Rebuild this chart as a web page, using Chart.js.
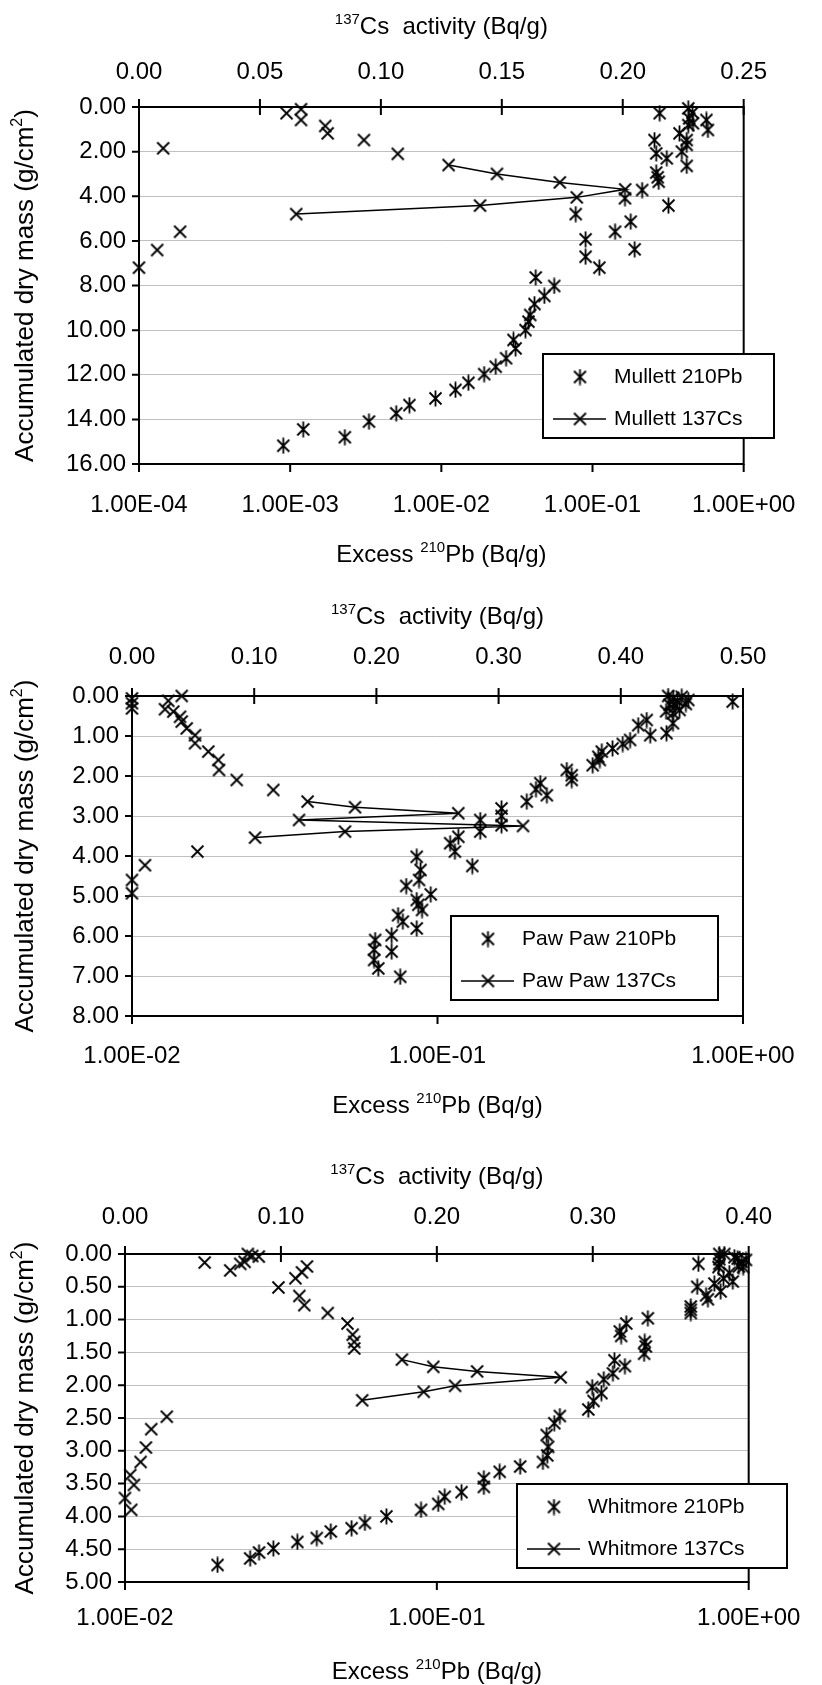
<!DOCTYPE html>
<html><head><meta charset="utf-8">
<script src="https://cdn.jsdelivr.net/npm/chart.js@4/dist/chart.umd.min.js"></script>
<style>
html,body{margin:0;padding:0;background:#fff;}
body{width:822px;height:1685px;position:relative;overflow:hidden;}
canvas{position:absolute;left:0;display:block;}
</style></head><body>
<canvas id="c1" width="822" height="580" style="top:0px"></canvas>
<canvas id="c2" width="822" height="540" style="top:580px"></canvas>
<canvas id="c3" width="822" height="565" style="top:1120px"></canvas>
<script>
// ---------------- DATA ----------------
// pairs are [activity (Bq/g), accumulated dry mass (g/cm2)]
const mullettPb = [[0.278,0.28],[0.43,0.06],[0.459,0.25],[0.436,0.51],[0.462,0.73],[0.43,0.81],[0.567,0.58],[0.58,1.03],
 [0.376,1.18],[0.42,1.48],[0.42,1.70],[0.257,1.48],[0.264,2.08],[0.31,2.30],[0.39,2.00],[0.42,2.64],[0.264,2.94],
 [0.27,3.15],[0.274,3.35],[0.213,3.72],[0.164,4.09],[0.318,4.42],[0.0774,4.80],[0.179,5.14],[0.141,5.59],[0.090,5.93],
 [0.190,6.38],[0.090,6.71],[0.111,7.20],[0.0421,7.64],[0.0558,8.02],[0.048,8.47],[0.0413,8.83],[0.0387,9.32],
 [0.0377,9.62],[0.036,10.0],[0.030,10.44],[0.031,10.82],[0.0268,11.26],[0.0229,11.64],[0.0192,11.97],[0.0151,12.36],
 [0.0124,12.68],[0.00914,13.06],[0.00615,13.36],[0.00503,13.73],[0.00332,14.10],[0.00122,14.45],[0.0023,14.80],[0.0009,15.18]];
const mullettCsLine = [[0.128,2.60],[0.148,3.00],[0.174,3.38],[0.201,3.69],[0.181,4.05],[0.141,4.42],[0.065,4.80]];
const mullettCsPts = [[0.061,0.28],[0.067,0.10],[0.067,0.58],[0.077,0.85],[0.078,1.18],[0.093,1.48],[0.107,2.10],
 [0.010,1.85],[0.017,5.59],[0.0075,6.41],[0.0,7.20]];
const mullettCsTicks = [0,0.05,0.10,0.15,0.20,0.25];
const mullettCsLabels = ['0.00','0.05','0.10','0.15','0.20','0.25'];
const mullettPbTicks = [1e-4,1e-3,1e-2,1e-1,1];
const mullettPbLabels = ['1.00E-04','1.00E-03','1.00E-02','1.00E-01','1.00E+00'];
const mullettMassTicks = [0,2,4,6,8,10,12,14,16];
const mullettMassLabels = ['0.00','2.00','4.00','6.00','8.00','10.00','12.00','14.00','16.00'];

const pawpawPb = [[0.569,0.0],[0.591,0.05],[0.63,0.02],[0.662,0.10],[0.575,0.22],[0.60,0.25],[0.62,0.35],[0.56,0.38],
 [0.59,0.43],[0.65,0.20],[0.61,0.12],[0.925,0.14],[0.59,0.68],[0.562,0.93],[0.484,0.60],[0.454,0.73],[0.497,0.98],
 [0.427,1.10],[0.404,1.20],[0.374,1.31],[0.345,1.39],[0.336,1.52],[0.34,1.60],[0.322,1.73],[0.265,1.85],[0.275,1.98],
 [0.275,2.10],[0.217,2.18],[0.21,2.33],[0.228,2.48],[0.196,2.64],[0.162,2.81],[0.162,3.00],[0.162,3.23],[0.138,3.10],
 [0.138,3.39],[0.117,3.52],[0.110,3.68],[0.114,3.89],[0.0855,4.02],[0.130,4.25],[0.088,4.35],[0.087,4.60],[0.079,4.75],
 [0.095,4.96],[0.0855,5.10],[0.0865,5.22],[0.089,5.35],[0.0743,5.48],[0.077,5.64],[0.0855,5.81],[0.0708,5.98],
 [0.0625,6.10],[0.062,6.34],[0.0708,6.39],[0.062,6.60],[0.064,6.81],[0.0755,7.02]];
const pawpawCsLine = [[0.1437,2.64],[0.1825,2.78],[0.267,2.93],[0.1367,3.10],[0.320,3.25],[0.1743,3.39],[0.1007,3.54]];
const pawpawCsPts = [[0,0.06],[0,0.18],[0,0.31],[0.0407,0.0],[0.0297,0.12],[0.027,0.33],[0.0338,0.39],[0.0393,0.52],
 [0.0407,0.64],[0.0448,0.81],[0.0516,0.98],[0.0516,1.18],[0.0624,1.39],[0.0706,1.60],[0.0712,1.85],[0.0857,2.10],
 [0.1156,2.35],[0.0535,3.89],[0.0106,4.23],[0,4.60],[0,4.93]];
const pawpawCsTicks = [0,0.1,0.2,0.3,0.4,0.5];
const pawpawCsLabels = ['0.00','0.10','0.20','0.30','0.40','0.50'];
const pawpawPbTicks = [1e-2,1e-1,1];
const pawpawPbLabels = ['1.00E-02','1.00E-01','1.00E+00'];
const pawpawMassTicks = [0,1,2,3,4,5,6,7,8];
const pawpawMassLabels = ['0.00','1.00','2.00','3.00','4.00','5.00','6.00','7.00','8.00'];

const whitmorePb = [[0.69,0.15],[0.805,0.0],[0.805,0.08],[0.805,0.15],[0.835,0.0],[0.922,0.07],[0.98,0.09],[0.93,0.19],
 [0.867,0.29],[0.80,0.20],[0.83,0.37],[0.889,0.42],[0.776,0.45],[0.684,0.50],[0.813,0.57],[0.73,0.63],[0.74,0.69],
 [0.652,0.80],[0.652,0.85],[0.652,0.90],[0.95,0.12],[0.96,0.20],[0.90,0.05],[0.475,0.98],[0.405,1.06],[0.386,1.18],
 [0.39,1.25],[0.464,1.34],[0.468,1.41],[0.462,1.52],[0.371,1.62],[0.401,1.71],[0.367,1.82],[0.343,1.91],[0.315,2.03],
 [0.337,2.12],[0.318,2.24],[0.306,2.37],[0.248,2.47],[0.238,2.58],[0.225,2.76],[0.2275,2.94],[0.226,3.07],[0.2188,3.17],
 [0.185,3.24],[0.159,3.32],[0.1415,3.42],[0.1415,3.55],[0.12,3.63],[0.106,3.70],[0.101,3.81],[0.089,3.90],[0.0689,4.0],
 [0.0588,4.10],[0.0533,4.18],[0.0457,4.23],[0.0412,4.33],[0.0357,4.39],[0.0299,4.49],[0.0269,4.55],[0.0252,4.64],[0.0198,4.74]];
const whitmoreCsLine = [[0.1776,1.61],[0.1977,1.72],[0.2258,1.79],[0.2794,1.88],[0.2117,2.01],[0.1916,2.10],[0.1521,2.23]];
const whitmoreCsPts = [[0.0511,0.13],[0.0675,0.25],[0.0739,0.15],[0.0788,0.0],[0.0816,0.03],[0.0858,0.04],[0.0767,0.12],
 [0.0984,0.51],[0.1093,0.37],[0.1135,0.28],[0.1167,0.19],[0.1118,0.64],[0.115,0.78],[0.130,0.90],[0.1427,1.06],
 [0.146,1.23],[0.147,1.34],[0.147,1.44],[0.0268,2.48],[0.0168,2.67],[0.0134,2.95],[0.010,3.17],[0.0034,3.37],
 [0.0057,3.52],[0,3.72],[0.004,3.90]];
const whitmoreCsTicks = [0,0.1,0.2,0.3,0.4];
const whitmoreCsLabels = ['0.00','0.10','0.20','0.30','0.40'];
const whitmorePbTicks = [1e-2,1e-1,1];
const whitmorePbLabels = ['1.00E-02','1.00E-01','1.00E+00'];
const whitmoreMassTicks = [0,0.5,1,1.5,2,2.5,3,3.5,4,4.5,5];
const whitmoreMassLabels = ['0.00','0.50','1.00','1.50','2.00','2.50','3.00','3.50','4.00','4.50','5.00'];

// axis titles: [text, superscript?]
const csTitle = [['137', true], ['Cs  activity (Bq/g)', false]];
const pbTitle = [['Excess ', false], ['210', true], ['Pb (Bq/g)', false]];
const massTitle = [['Accumulated dry mass (g/cm', false], ['2', true], [')', false]];

// ---------------- STYLE ----------------
const FONT = "'Liberation Sans', Arial, Helvetica, sans-serif";
const TICK_FS = 24, TITLE_FS = 24, YTITLE_FS = 26, LEG_FS = 21;
Chart.defaults.font.family = FONT;
Chart.defaults.color = '#000';

function crossImg() {
  const c = document.createElement('canvas'); c.width = 15; c.height = 15;
  const g = c.getContext('2d'); g.strokeStyle = '#000'; g.lineWidth = 1.8;
  g.beginPath(); g.moveTo(1.5,1.5); g.lineTo(13.5,13.5); g.moveTo(13.5,1.5); g.lineTo(1.5,13.5); g.stroke();
  return c;
}
function asteriskImg() {
  const c = document.createElement('canvas'); c.width = 15; c.height = 17;
  const g = c.getContext('2d'); g.strokeStyle = '#000'; g.lineWidth = 1.8;
  g.beginPath(); g.moveTo(1.5,2.5); g.lineTo(13.5,14.5); g.moveTo(13.5,2.5); g.lineTo(1.5,14.5);
  g.moveTo(7.5,0.5); g.lineTo(7.5,16.5); g.stroke();
  return c;
}
const CS_MARK = crossImg();
const PB_MARK = asteriskImg();

const framePlugin = {
  id: 'frame',
  beforeDatasetsDraw(chart) {
    const {ctx, chartArea: a, scales} = chart;
    ctx.save();
    ctx.strokeStyle = '#000'; ctx.lineWidth = 2; ctx.lineCap = 'square';
    ctx.beginPath();
    ctx.moveTo(a.left, a.top); ctx.lineTo(a.right, a.top); ctx.lineTo(a.right, a.bottom);
    ctx.lineTo(a.left, a.bottom); ctx.closePath();
    ctx.stroke();
    ctx.lineCap = 'butt';
    ctx.beginPath();
    scales.xCs.ticks.forEach(t => { const x = scales.xCs.getPixelForValue(t.value); ctx.moveTo(x, a.top - 8); ctx.lineTo(x, a.top + 8); });
    scales.xPb.ticks.forEach(t => { const x = scales.xPb.getPixelForValue(t.value); ctx.moveTo(x, a.bottom); ctx.lineTo(x, a.bottom + 8); });
    scales.y.ticks.forEach(t => { const y = scales.y.getPixelForValue(t.value); ctx.moveTo(a.left - 7, y); ctx.lineTo(a.left, y); });
    ctx.stroke();
    ctx.restore();
  }
};

function drawRich(ctx, parts, size, cx, cy) {
  const supSize = Math.round(size * 0.62);
  const widths = parts.map(([t, sup]) => { ctx.font = (sup ? supSize : size) + 'px ' + FONT; return ctx.measureText(t).width; });
  const total = widths.reduce((a, b) => a + b, 0);
  let x = cx - total / 2;
  ctx.textBaseline = 'alphabetic'; ctx.textAlign = 'left'; ctx.fillStyle = '#000';
  const base = cy + size * 0.36;
  parts.forEach(([t, sup], i) => {
    ctx.font = (sup ? supSize : size) + 'px ' + FONT;
    ctx.fillText(t, x, sup ? base - size * 0.42 : base);
    x += widths[i];
  });
}

const titlePlugin = {
  id: 'richTitles',
  afterDraw(chart, args, o) {
    const {ctx, chartArea: a} = chart;
    const cx = (a.left + a.right) / 2;
    ctx.save();
    drawRich(ctx, o.top, TITLE_FS, cx, o.topY);
    drawRich(ctx, o.bottom, TITLE_FS, cx, o.bottomY);
    ctx.translate(o.yX, (a.top + a.bottom) / 2);
    ctx.rotate(-Math.PI / 2);
    drawRich(ctx, o.left, YTITLE_FS, 0, 0);
    ctx.restore();
  }
};

const legendPlugin = {
  id: 'boxLegend',
  afterDraw(chart, args, o) {
    const ctx = chart.ctx; const b = o.box;
    ctx.save();
    ctx.fillStyle = '#fff'; ctx.fillRect(b.x, b.y, b.w, b.h);
    ctx.strokeStyle = '#000'; ctx.lineWidth = 2; ctx.strokeRect(b.x, b.y, b.w, b.h);
    ctx.font = LEG_FS + 'px ' + FONT; ctx.textBaseline = 'middle'; ctx.textAlign = 'left'; ctx.fillStyle = '#000';
    o.items.forEach((it, i) => {
      const ds = chart.data.datasets[it.dataset];
      const cy = b.y + o.rows[i];
      if (it.line) {
        ctx.lineWidth = 1.5; ctx.beginPath(); ctx.moveTo(b.x + 10, cy); ctx.lineTo(b.x + 63, cy); ctx.stroke();
      }
      const img = ds.pointStyle;
      ctx.drawImage(img, b.x + 37 - img.width / 2, cy - img.height / 2);
      ctx.fillText(ds.label, b.x + 71, cy);
    });
    ctx.restore();
  }
};

function toXY(arr) { return arr.map(([x, y]) => ({x, y})); }

function buildPanel(p) {
  const cTop = p.canvasTop, cBot = p.canvasTop + p.canvasHeight;
  const hT = TICK_FS * 1.2 / 2;
  const fix = vals => scale => { scale.ticks = vals.map(v => ({value: v})); };
  const tickFont = {size: TICK_FS, family: FONT};
  return new Chart(document.getElementById(p.id), {
    type: 'scatter',
    data: { datasets: [
      { label: p.pbName, data: toXY(p.pb), xAxisID: 'xPb', yAxisID: 'y', pointStyle: PB_MARK, showLine: false, clip: false },
      { label: p.csName, data: toXY(p.csLine), xAxisID: 'xCs', yAxisID: 'y', pointStyle: CS_MARK, showLine: true,
        borderColor: '#000', borderWidth: 1.5, tension: 0, clip: false },
      { label: p.csName, data: toXY(p.csPts), xAxisID: 'xCs', yAxisID: 'y', pointStyle: CS_MARK, showLine: false, clip: false }
    ]},
    options: {
      responsive: false, animation: false, events: [],
      layout: { padding: { left: 0, top: 0, bottom: 0, right: 822 - p.R } },
      plugins: {
        legend: { display: false }, tooltip: { enabled: false },
        richTitles: { top: csTitle, bottom: pbTitle, left: massTitle,
          topY: p.topTitleY - cTop, bottomY: p.botTitleY - cTop, yX: p.yTitleX },
        boxLegend: { box: {x: p.leg.x, y: p.leg.y - cTop, w: p.leg.w, h: p.leg.h}, rows: [23, 65],
          items: [{dataset: 0, line: false}, {dataset: 1, line: true}] }
      },
      scales: {
        xPb: {
          type: 'logarithmic', position: 'bottom', min: p.pbTicks[0], max: p.pbTicks[p.pbTicks.length - 1],
          afterBuildTicks: fix(p.pbTicks),
          afterFit: s => { s.height = cBot - p.B; },
          grid: { display: false, drawTicks: false }, border: { display: false },
          ticks: { autoSkip: false, maxRotation: 0, minRotation: 0, font: tickFont, color: '#000',
            padding: p.botLabelY - p.B - hT, callback: (v, i) => p.pbLabels[i] },
          title: { display: false }
        },
        xCs: {
          type: 'linear', position: 'top', min: p.csTicks[0], max: p.csTicks[p.csTicks.length - 1],
          afterBuildTicks: fix(p.csTicks),
          afterFit: s => { s.height = p.T - cTop; },
          grid: { display: false, drawTicks: false }, border: { display: false },
          ticks: { autoSkip: false, maxRotation: 0, minRotation: 0, font: tickFont, color: '#000',
            padding: p.T - p.topLabelY - hT, callback: (v, i) => p.csLabels[i] },
          title: { display: false }
        },
        y: {
          type: 'linear', position: 'left', reverse: true, min: p.massTicks[0], max: p.massTicks[p.massTicks.length - 1],
          afterBuildTicks: fix(p.massTicks),
          afterFit: s => { s.width = p.L; },
          grid: { color: '#c0c0c0', lineWidth: 1, drawTicks: false }, border: { display: false },
          ticks: { autoSkip: false, font: tickFont, color: '#000', padding: 13, callback: (v, i) => p.massLabels[i] },
          title: { display: false }
        }
      }
    },
    plugins: [framePlugin, titlePlugin, legendPlugin]
  });
}

buildPanel({ id: 'c1', canvasTop: 0, canvasHeight: 580, L: 139, T: 107, R: 751, B: 464,
  topTitleY: 25, topLabelY: 72, botLabelY: 505, botTitleY: 553, yTitleX: 24,
  pb: mullettPb, csLine: mullettCsLine, csPts: mullettCsPts, pbName: 'Mullett 210Pb', csName: 'Mullett 137Cs',
  csTicks: mullettCsTicks, csLabels: mullettCsLabels, pbTicks: mullettPbTicks, pbLabels: mullettPbLabels,
  massTicks: mullettMassTicks, massLabels: mullettMassLabels,
  leg: {x: 543, y: 354, w: 231, h: 84} });

buildPanel({ id: 'c2', canvasTop: 580, canvasHeight: 540, L: 132, T: 696, R: 743, B: 1016,
  topTitleY: 615, topLabelY: 657, botLabelY: 1056, botTitleY: 1104, yTitleX: 24,
  pb: pawpawPb, csLine: pawpawCsLine, csPts: pawpawCsPts, pbName: 'Paw Paw 210Pb', csName: 'Paw Paw 137Cs',
  csTicks: pawpawCsTicks, csLabels: pawpawCsLabels, pbTicks: pawpawPbTicks, pbLabels: pawpawPbLabels,
  massTicks: pawpawMassTicks, massLabels: pawpawMassLabels,
  leg: {x: 451, y: 916, w: 267, h: 84} });

buildPanel({ id: 'c3', canvasTop: 1120, canvasHeight: 565, L: 125, T: 1254, R: 751, B: 1582,
  topTitleY: 1175, topLabelY: 1217, botLabelY: 1618, botTitleY: 1670, yTitleX: 24,
  pb: whitmorePb, csLine: whitmoreCsLine, csPts: whitmoreCsPts, pbName: 'Whitmore 210Pb', csName: 'Whitmore 137Cs',
  csTicks: whitmoreCsTicks, csLabels: whitmoreCsLabels, pbTicks: whitmorePbTicks, pbLabels: whitmorePbLabels,
  massTicks: whitmoreMassTicks, massLabels: whitmoreMassLabels,
  leg: {x: 517, y: 1484, w: 270, h: 84} });
</script>
</body></html>
